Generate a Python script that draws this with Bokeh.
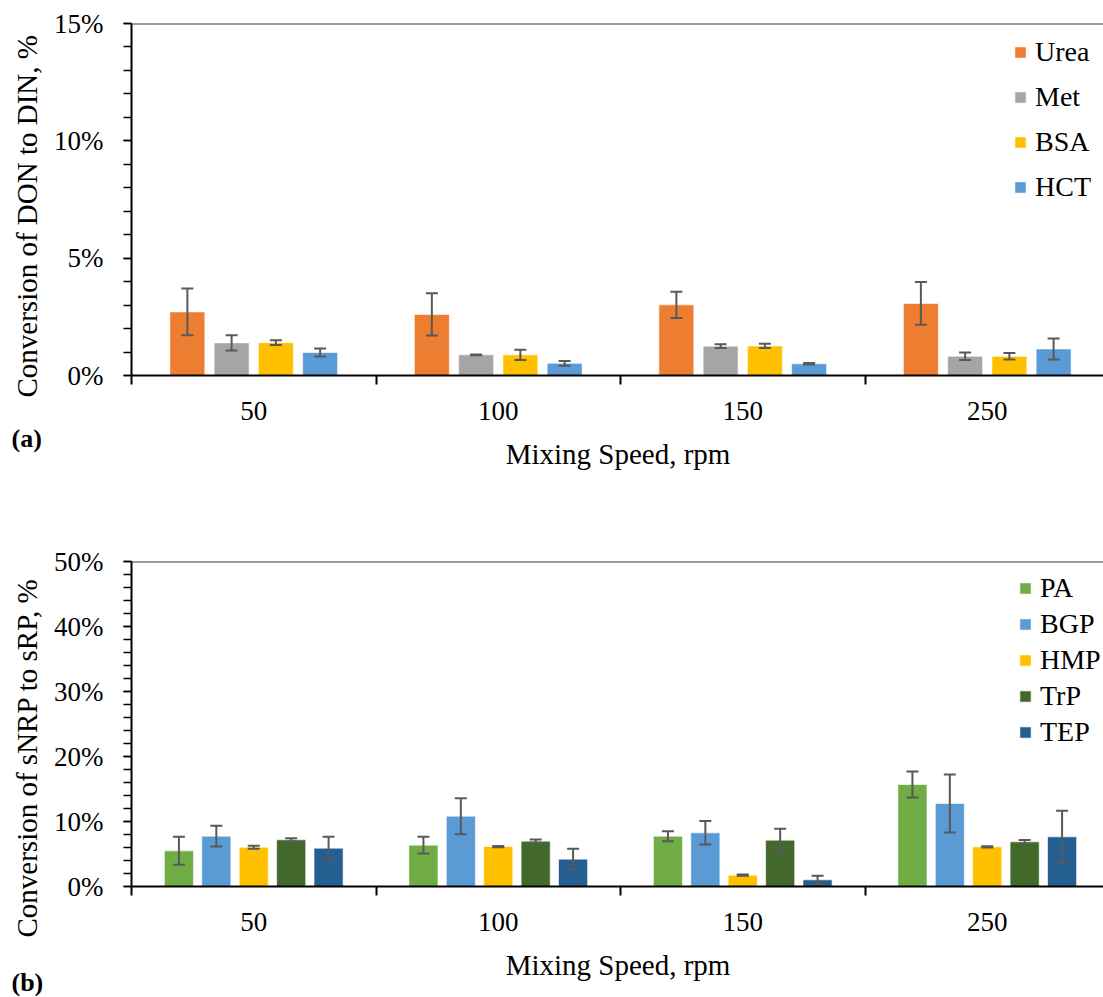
from bokeh.plotting import figure
from bokeh.models import (FixedTicker, PrintfTickFormatter, Whisker, TeeHead, Title,
                          ColumnDataSource, Legend, LegendItem, Span, Range1d)
from bokeh.layouts import column
from bokeh.embed import file_html
from bokeh.resources import INLINE

# ---------------- data ----------------
speeds = ["50", "100", "150", "250"]

# panel (a): conversion of DON to DIN, %
series_a = ["Urea", "Met", "BSA", "HCT"]
colors_a = ["#ED7D31", "#A5A5A5", "#FFC000", "#5B9BD5"]
urea = [2.71, 2.60, 3.01, 3.07]
urea_err = [1.00, 0.90, 0.56, 0.91]
met = [1.39, 0.88, 1.25, 0.82]
met_err = [0.32, 0.02, 0.08, 0.16]
bsa = [1.40, 0.88, 1.26, 0.82]
bsa_err = [0.10, 0.22, 0.09, 0.14]
hct = [0.98, 0.52, 0.50, 1.13]
hct_err = [0.17, 0.10, 0.03, 0.45]

# panel (b): conversion of sNRP to sRP, %
series_b = ["PA", "BGP", "HMP", "TrP", "TEP"]
colors_b = ["#70AD47", "#5B9BD5", "#FFC000", "#43682B", "#255E91"]
pa = [5.49, 6.36, 7.74, 15.69]
pa_err = [2.15, 1.28, 0.77, 2.00]
bgp = [7.74, 10.82, 8.26, 12.77]
bgp_err = [1.60, 2.77, 1.80, 4.46]
hmp = [6.05, 6.15, 1.74, 6.10]
hmp_err = [0.23, 0.10, 0.10, 0.10]
trp = [7.18, 6.98, 7.13, 6.87]
trp_err = [0.26, 0.25, 1.74, 0.28]
tep = [5.90, 4.21, 1.03, 7.64]
tep_err = [1.75, 1.60, 0.64, 4.00]

y_ticks_a = [0, 5, 10, 15]
y_ticks_b = [0, 10, 20, 30, 40, 50]

FONT = "Liberation Serif"
FRAME_W = 973
CAT_PX = 244.5


def make_panel(names, colors, values, errors, ymax, yticks, yminor, bar_w, step,
               title_y, tag, frame_h, border_top, height, legend_xy, legend_spacing,
               ytitle_offset, tag_standoff):
    p = figure(frame_width=FRAME_W, frame_height=frame_h, height=height,
               min_border_left=130, min_border_right=0, min_border_top=border_top,
               min_border_bottom=height - border_top - frame_h,
               output_backend="svg", toolbar_location=None,
               x_range=Range1d(0, FRAME_W / CAT_PX), y_range=Range1d(0, ymax))
    p.xgrid.visible = False
    p.ygrid.visible = False
    p.outline_line_color = None
    p.background_fill_color = "white"
    p.border_fill_color = "white"

    n = len(names)
    items = []
    for j, (nm, col, vals, errs) in enumerate(zip(names, colors, values, errors)):
        xs = [i + 0.5 + (j - (n - 1) / 2) * step for i in range(len(speeds))]
        src = ColumnDataSource(dict(x=xs, top=vals,
                                    upper=[v + e for v, e in zip(vals, errs)],
                                    lower=[v - e for v, e in zip(vals, errs)]))
        r = p.vbar(x="x", top="top", width=bar_w, source=src, fill_color=col,
                   line_color="white", line_alpha=0.6, line_width=1)
        items.append(LegendItem(label=nm, renderers=[r]))
        w = Whisker(source=src, base="x", upper="upper", lower="lower",
                    line_color="#595959", line_width=2, level="annotation",
                    upper_head=TeeHead(size=12, line_color="#595959", line_width=2),
                    lower_head=TeeHead(size=12, line_color="#595959", line_width=2))
        p.add_layout(w)

    # top border line
    p.add_layout(Span(location=ymax, dimension="width", line_color="#383838", line_width=2))

    # x axis: labels at category centres, tick marks at category boundaries
    xa = p.xaxis[0]
    xa.ticker = FixedTicker(ticks=[i + 0.5 for i in range(len(speeds))],
                            minor_ticks=list(range(len(speeds) + 1)))
    xa.major_label_overrides = {i + 0.5: s for i, s in enumerate(speeds)}
    xa.major_tick_out = 0
    xa.major_tick_in = 0
    xa.minor_tick_out = 9
    xa.minor_tick_in = 0
    xa.minor_tick_line_width = 2
    xa.minor_tick_line_color = "black"
    xa.axis_line_width = 2
    xa.axis_line_color = "black"
    xa.major_label_standoff = 17
    xa.major_label_text_font = FONT
    xa.major_label_text_font_size = "27px"
    xa.major_label_text_color = "black"
    xa.axis_label = "Mixing Speed, rpm"
    xa.axis_label_text_font = FONT
    xa.axis_label_text_font_size = "29px"
    xa.axis_label_text_font_style = "normal"
    xa.axis_label_text_color = "black"
    xa.axis_label_standoff = 15

    ya = p.yaxis[0]
    ya.ticker = FixedTicker(ticks=yticks, minor_ticks=yminor)
    ya.formatter = PrintfTickFormatter(format="%d%%")
    ya.major_tick_out = 8
    ya.major_tick_in = 0
    ya.minor_tick_out = 8
    ya.minor_tick_in = 0
    ya.major_tick_line_width = 1.5
    ya.minor_tick_line_width = 1.5
    ya.major_tick_line_color = "black"
    ya.minor_tick_line_color = "black"
    ya.axis_line_width = 2
    ya.axis_line_color = "black"
    ya.major_label_standoff = 20
    ya.major_label_text_font = FONT
    ya.major_label_text_font_size = "27px"
    ya.major_label_text_color = "black"

    legend = Legend(items=items, location=legend_xy, glyph_width=14, glyph_height=14,
                    label_text_font=FONT, label_text_font_size="28px",
                    label_text_color="black", label_height=30, label_standoff=8,
                    spacing=legend_spacing, padding=0, margin=0,
                    background_fill_alpha=0, border_line_color=None)
    p.add_layout(legend)

    # y-axis title (as a side title so it can be shifted along the axis)
    p.add_layout(Title(text=title_y, align="left", offset=ytitle_offset, standoff=17,
                       text_font=FONT, text_font_size="29px", text_font_style="normal",
                       text_color="black"), "left")
    # panel tag
    p.add_layout(Title(text=tag, align="left", vertical_align="top", offset=-120,
                       standoff=tag_standoff, text_font=FONT, text_font_size="26px",
                       text_font_style="bold", text_color="black"), "below")
    return p


fig_a = make_panel(series_a, colors_a, [urea, met, bsa, hct],
                   [urea_err, met_err, bsa_err, hct_err],
                   15, y_ticks_a, list(range(0, 16)), 0.143, 0.181,
                   "Conversion of DON to DIN, %", "(a)", 352, 23, 480,
                   (882, 172), 13, -22, -98)
fig_b = make_panel(series_b, colors_b, [pa, bgp, hmp, trp, tep],
                   [pa_err, bgp_err, hmp_err, trp_err, tep_err],
                   50, y_ticks_b, list(range(0, 51, 2)), 0.119, 0.153,
                   "Conversion of sNRP to sRP, %", "(b)", 325, 81, 516,
                   (887, 138), 4, -51, -32)

layout = column(fig_a, fig_b, spacing=0)
open("out.html", "w").write(file_html(layout, INLINE))
